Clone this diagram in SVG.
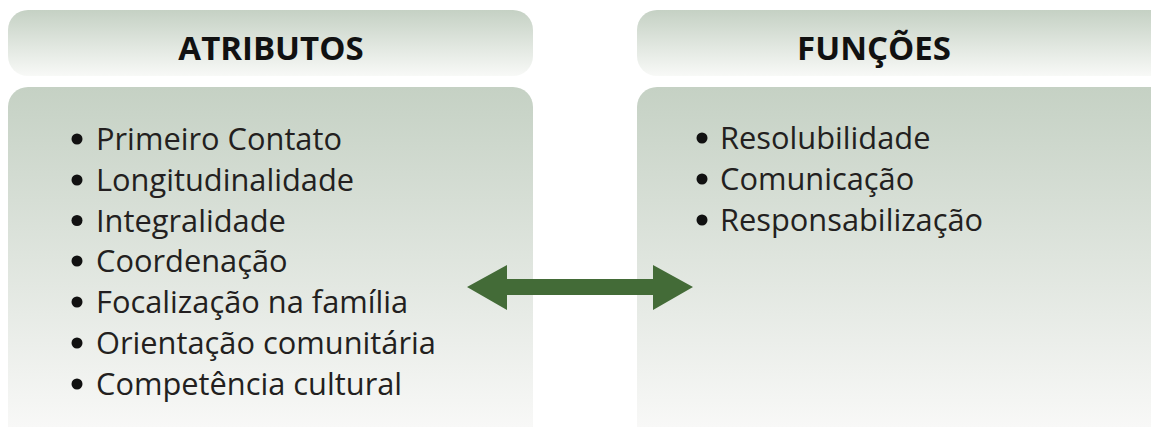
<svg xmlns="http://www.w3.org/2000/svg" width="1151" height="427" viewBox="0 0 1151 427">
<defs>
<linearGradient id="gh" x1="0" y1="0" x2="0" y2="1">
<stop offset="0" stop-color="#c5d1c4"/>
<stop offset="1" stop-color="#f8f9f7"/>
</linearGradient>
<linearGradient id="gb" gradientUnits="userSpaceOnUse" x1="0" y1="87" x2="0" y2="427">
<stop offset="0" stop-color="#c5d1c4"/>
<stop offset="1" stop-color="#f8f8f7"/>
</linearGradient>
<style>
.hd{font-family:"Open Sans","Liberation Sans",sans-serif;font-weight:bold;font-size:33px;fill:#111;text-anchor:middle}
.it{font-family:"Open Sans","Liberation Sans",sans-serif;font-size:30.8px;fill:#231f20}
.bl{fill:#111}
</style>
</defs>
<g id="atributos-header">
<rect x="8" y="10" width="525" height="66" rx="20" fill="url(#gh)"/>
<text class="hd" x="271" y="60">ATRIBUTOS</text>
</g>
<g id="funcoes-header">
<rect x="637" y="10" width="540" height="66" rx="20" fill="url(#gh)"/>
<text class="hd" x="874" y="60">FUNÇÕES</text>
</g>
<g id="atributos-body">
<rect x="8" y="87" width="525" height="380" rx="20" fill="url(#gb)"/>
<circle class="bl" cx="77" cy="139" r="5.5"/>
<circle class="bl" cx="77" cy="180" r="5.5"/>
<circle class="bl" cx="77" cy="220.5" r="5.5"/>
<circle class="bl" cx="77" cy="261" r="5.5"/>
<circle class="bl" cx="77" cy="302" r="5.5"/>
<circle class="bl" cx="77" cy="343" r="5.5"/>
<circle class="bl" cx="77" cy="384" r="5.5"/>
<text class="it" x="96" y="150">Primeiro Contato</text>
<text class="it" x="96" y="191">Longitudinalidade</text>
<text class="it" x="96" y="231.5">Integralidade</text>
<text class="it" x="96" y="272">Coordenação</text>
<text class="it" x="96" y="313">Focalização na família</text>
<text class="it" x="96" y="354">Orientação comunitária</text>
<text class="it" x="96" y="395">Competência cultural</text>
</g>
<g id="funcoes-body">
<rect x="637" y="87" width="540" height="380" rx="20" fill="url(#gb)"/>
<circle class="bl" cx="702" cy="138" r="5.5"/>
<circle class="bl" cx="702" cy="179" r="5.5"/>
<circle class="bl" cx="702" cy="220" r="5.5"/>
<text class="it" x="720" y="149">Resolubilidade</text>
<text class="it" x="720" y="190">Comunicação</text>
<text class="it" x="720" y="231">Responsabilização</text>
</g>
<g id="connectors">
<polygon points="467,287 507,265 507,279 653,279 653,265 693,287 653,310 653,295 507,295 507,310" fill="#436b37"/>
</g>
</svg>
